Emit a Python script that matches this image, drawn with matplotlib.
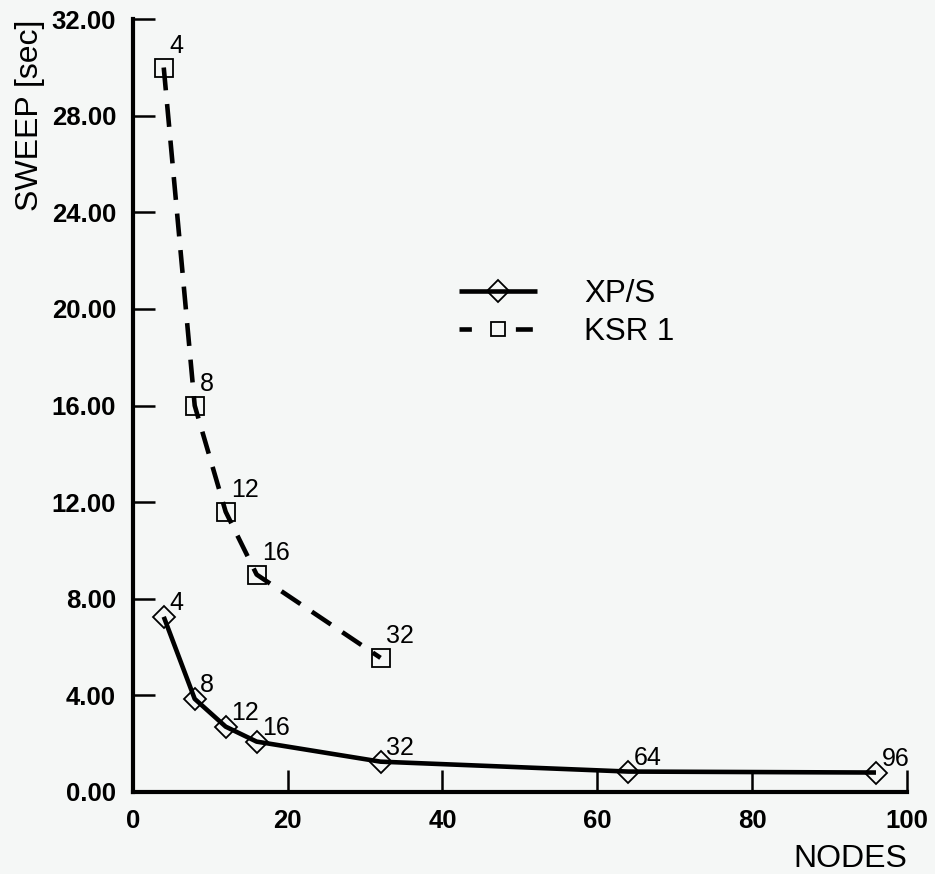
import matplotlib.pyplot as plt
from matplotlib import font_manager
from matplotlib.lines import Line2D

# node counts and sweep times (sec)
xps_nodes = [4, 8, 12, 16, 32, 64, 96]
xps_sweep = [7.25, 3.85, 2.7, 2.08, 1.25, 0.84, 0.8]

ksr_nodes = [4, 8, 12, 16, 32]
ksr_sweep = [30.0, 16.0, 11.6, 9.0, 5.55]

y_ticks = [0, 4, 8, 12, 16, 20, 24, 28, 32]
x_ticks = [0, 20, 40, 60, 80, 100]

bg = '#f5f7f6'
plt.rcParams['font.family'] = ['Liberation Sans', 'DejaVu Sans']

# make sure the bold tick labels use the normal-width Liberation Sans Bold
bold_file = None
for f in font_manager.fontManager.ttflist:
    if f.name == 'Liberation Sans' and 'narrow' not in f.fname.lower() \
            and f.weight in (700, 'bold') and f.style == 'normal':
        bold_file = f.fname
        break
if bold_file:
    tick_font = font_manager.FontProperties(fname=bold_file, size=18.5)
else:
    tick_font = font_manager.FontProperties(family='Liberation Sans',
                                            weight='bold', size=18.5)

fig = plt.figure(figsize=(9.35, 8.74), dpi=100, facecolor=bg)
ax = fig.add_axes([0.142, 0.094, 0.828, 0.884], facecolor=bg)

ax.plot(xps_nodes, xps_sweep, color='black', lw=3.3, marker='D', ms=11,
        mfc='none', mec='black', mew=1.3, label='XP/S', solid_capstyle='butt')
ax.plot(ksr_nodes, ksr_sweep, color='black', lw=3.3, dashes=(5, 3),
        marker='s', ms=13.5, mfc='none', mec='black', mew=1.3,
        label='KSR 1', dash_capstyle='butt')

# node count labels next to each point
for x, y in zip(xps_nodes, xps_sweep):
    ax.annotate(str(x), (x, y), xytext=(4, 1), textcoords='offset points',
                fontsize=18, ha='left', va='bottom')
for x, y in zip(ksr_nodes, ksr_sweep):
    ax.annotate(str(x), (x, y), xytext=(4, 7), textcoords='offset points',
                fontsize=18, ha='left', va='bottom')

ax.set_xlim(0, 100)
ax.set_ylim(0, 32)
ax.set_xticks(x_ticks)
ax.set_yticks(y_ticks)
ax.set_yticklabels([f'{v:.2f}' for v in y_ticks])
ax.tick_params(direction='in', length=16, width=1.8, pad=12)
for lbl in ax.get_xticklabels() + ax.get_yticklabels():
    lbl.set_fontproperties(tick_font)

for side in ['top', 'right']:
    ax.spines[side].set_visible(False)
for side in ['left', 'bottom']:
    ax.spines[side].set_linewidth(3)

ax.set_xlabel('NODES', fontsize=23, loc='right', labelpad=8)
ax.set_ylabel('SWEEP [sec]', fontsize=23, loc='top')
ax.yaxis.set_label_coords(-0.114, 1.0)

leg = ax.legend(loc='upper left', bbox_to_anchor=(0.385, 0.70), frameon=False,
                fontsize=22.5, handlelength=2.5, handletextpad=1.5,
                labelspacing=0.25, numpoints=1)

# legend KSR handle looks like "- [] -" with a smaller square
for ln in leg.findobj(Line2D):
    if ln.get_marker() == 's':
        ln.set_markersize(9.5)
    if ln.get_linestyle() not in ('-', 'None', 'none', ''):
        ln.set_dashes((2.7, 9.6, 3.7, 5))

fig.savefig('out.png', dpi=100, facecolor=bg)
